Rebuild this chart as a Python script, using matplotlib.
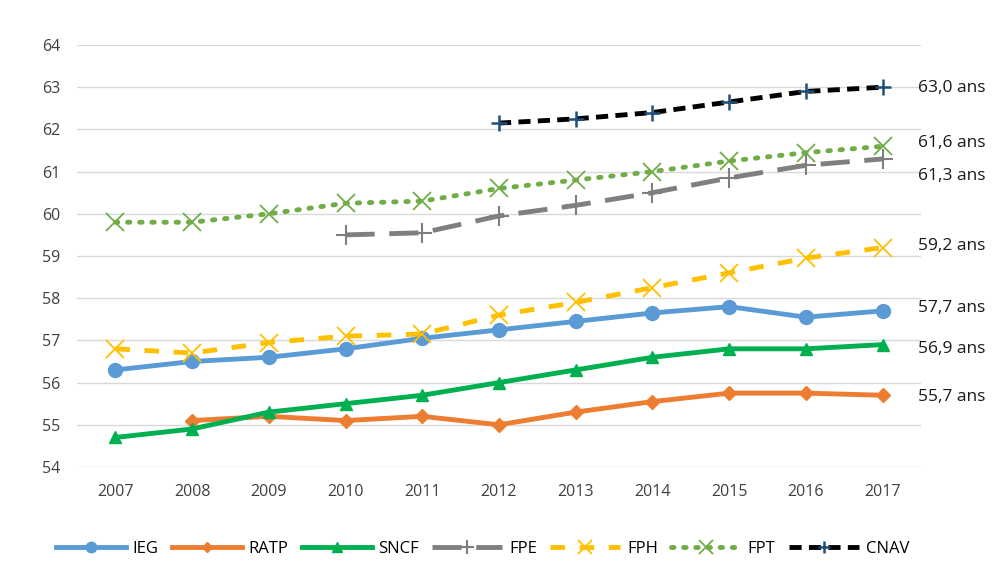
import matplotlib.pyplot as plt
import numpy as np

years = [2007, 2008, 2009, 2010, 2011, 2012, 2013, 2014, 2015, 2016, 2017]

ieg = [56.3, 56.5, 56.6, 56.8, 57.05, 57.25, 57.45, 57.65, 57.8, 57.55, 57.7]
ratp = [None, 55.1, 55.2, 55.1, 55.2, 55.0, 55.3, 55.55, 55.75, 55.75, 55.7]
sncf = [54.7, 54.9, 55.3, 55.5, 55.7, 56.0, 56.3, 56.6, 56.8, 56.8, 56.9]
fpe = [None, None, None, 59.5, 59.55, 59.95, 60.2, 60.5, 60.85, 61.15, 61.3]
fph = [56.8, 56.7, 56.95, 57.1, 57.15, 57.6, 57.9, 58.25, 58.6, 58.95, 59.2]
fpt = [59.8, 59.8, 60.0, 60.25, 60.3, 60.6, 60.8, 61.0, 61.25, 61.45, 61.6]
cnav = [None, None, None, None, None, 62.15, 62.25, 62.4, 62.65, 62.9, 63.0]

end_labels = ["57,7 ans", "55,7 ans", "56,9 ans", "61,3 ans", "59,2 ans", "61,6 ans", "63,0 ans"]
# vertical place of each end label (spread apart as in the original)
label_y = [57.77, 55.66, 56.8, 60.9, 59.24, 61.68, 62.98]


def arr(v):
    return np.array([np.nan if a is None else a for a in v], dtype=float)


plt.rcParams['font.family'] = ['Open Sans', 'DejaVu Sans']
fig = plt.figure(figsize=(10.05, 5.72), dpi=100)
ax = fig.add_axes([0.0766, 0.1836, 0.8398, 0.7377])

x = np.array(years)
ax.plot(x, arr(ieg), '-o', color='#5B9BD5', lw=3.5, ms=10, label='IEG')
ax.plot(x, arr(ratp), '-D', color='#ED7D31', lw=3.5, ms=7, label='RATP')
ax.plot(x, arr(sncf), '-^', color='#00B050', lw=3.5, ms=9, label='SNCF')
ax.plot(x, arr(fpe), '--+', color='#7F7F7F', lw=3.5, ms=14, mew=1.5,
        dashes=(6, 3), label='FPE')
ax.plot(x, arr(fph), '--x', color='#FFC000', lw=3.5, ms=13, mew=1.3,
        dashes=(3, 3), label='FPH')
ax.plot(x, arr(fpt), ':x', color='#70AD47', lw=3.5, ms=13, mew=1.3,
        dashes=(0.5, 2), dash_capstyle='round', label='FPT')
ax.plot(x, arr(cnav), '--+', color='black', lw=3.5, ms=12, mew=1.8,
        mec='#1F4E79', dashes=(2.5, 1.5), label='CNAV')

for txt, yv in zip(end_labels, label_y):
    ax.annotate(txt, xy=(2017.5, yv), xytext=(-2, 0), textcoords='offset points',
                ha='left', va='center', fontsize=12.5, color='#1a1a1a',
                annotation_clip=False)

ax.set_xlim(2006.5, 2017.5)
ax.set_ylim(54, 64)
ax.set_xticks(years)
ax.set_yticks(range(54, 65))
ax.tick_params(length=0, labelsize=11.5, colors='#404040', pad=12)
ax.yaxis.grid(True, color='#D9D9D9', lw=1)
ax.set_axisbelow(True)
for s in ax.spines.values():
    s.set_visible(False)

fig.legend(loc='lower center', bbox_to_anchor=(0.48, 0.0), ncol=7, frameon=False,
           fontsize=12, handlelength=4.2, columnspacing=0.8, handletextpad=0.4,
           markerscale=0.75)

fig.savefig('out.png', dpi=100)
plt.close()
